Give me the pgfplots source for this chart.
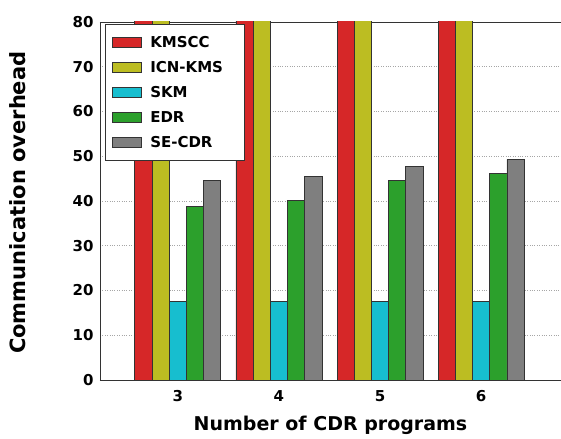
\documentclass[border=0pt]{standalone}
\usepackage{fontspec}
\setmainfont{DejaVu Sans}
\usepackage{pgfplots}
\pgfplotsset{compat=1.18}

\definecolor{cKMSCC}{HTML}{D62728}
\definecolor{cICN}{HTML}{BCBD22}
\definecolor{cSKM}{HTML}{17BECF}
\definecolor{cEDR}{HTML}{2CA02C}
\definecolor{cSE}{HTML}{7F7F7F}

\begin{document}
\begin{tikzpicture}
\begin{axis}[name=ax,
  scale only axis, width=461pt, height=358pt,
  ybar=0pt, bar width=17.2pt,
  xmin=2.23, xmax=6.79, ymin=0, ymax=80,
  xtick={3,4,5,6}, ytick={0,10,...,80},
  axis x line=box, axis y line=left,
  axis line style={-, black!80, line width=0.8pt},
  major tick length=0pt,
  ymajorgrids, grid style={dotted, gray!70, line width=0.7pt},
  /pgf/number format/assume math mode=true,
  tick label style={font=\fontsize{15}{15}\selectfont\bfseries},
  xticklabel style={yshift=-7pt},
  yticklabel style={xshift=-3pt},
  xlabel={Number of CDR programs}, ylabel={Communication overhead},
  x label style={font=\fontsize{19}{19}\selectfont\bfseries, at={(axis description cs:0.5,-0.126)}, anchor=center},
  y label style={font=\fontsize{21}{21}\selectfont\bfseries, at={(axis description cs:-0.178,0.495)}, anchor=center},
  legend style={at={(axis description cs:0.011,0.994)}, anchor=north west,
    draw=black!80, line width=0.8pt, fill=white,
    font=\fontsize{15}{15}\selectfont\bfseries,
    row sep=8.3pt, inner xsep=7pt, inner ysep=10pt, cells={anchor=west},
    /tikz/every odd column/.append style={column sep=6pt}},
  legend image code/.code={\draw[#1, line width=0.8pt] (0pt,-5pt) rectangle (29pt,5pt);},
  every axis plot/.append style={draw=black!80, line width=0.8pt},
]
\addplot[fill=cKMSCC] coordinates {(3,100) (4,100) (5,100) (6,100)};
\addlegendentry{KMSCC}
\addplot[fill=cICN] coordinates {(3,100) (4,100) (5,100) (6,100)};
\addlegendentry{ICN-KMS\hspace*{12pt}}
\addplot[fill=cSKM] coordinates {(3,17.6) (4,17.6) (5,17.6) (6,17.6)};
\addlegendentry{SKM}
\addplot[fill=cEDR] coordinates {(3,38.8) (4,40.1) (5,44.5) (6,46.2)};
\addlegendentry{EDR}
\addplot[fill=cSE] coordinates {(3,44.6) (4,45.5) (5,47.8) (6,49.3)};
\addlegendentry{SE-CDR}
\end{axis}
\pgfresetboundingbox
\path ([xshift=-100pt,yshift=-59pt]ax.south west) rectangle ([yshift=22pt]ax.north east);
\end{tikzpicture}
\end{document}
